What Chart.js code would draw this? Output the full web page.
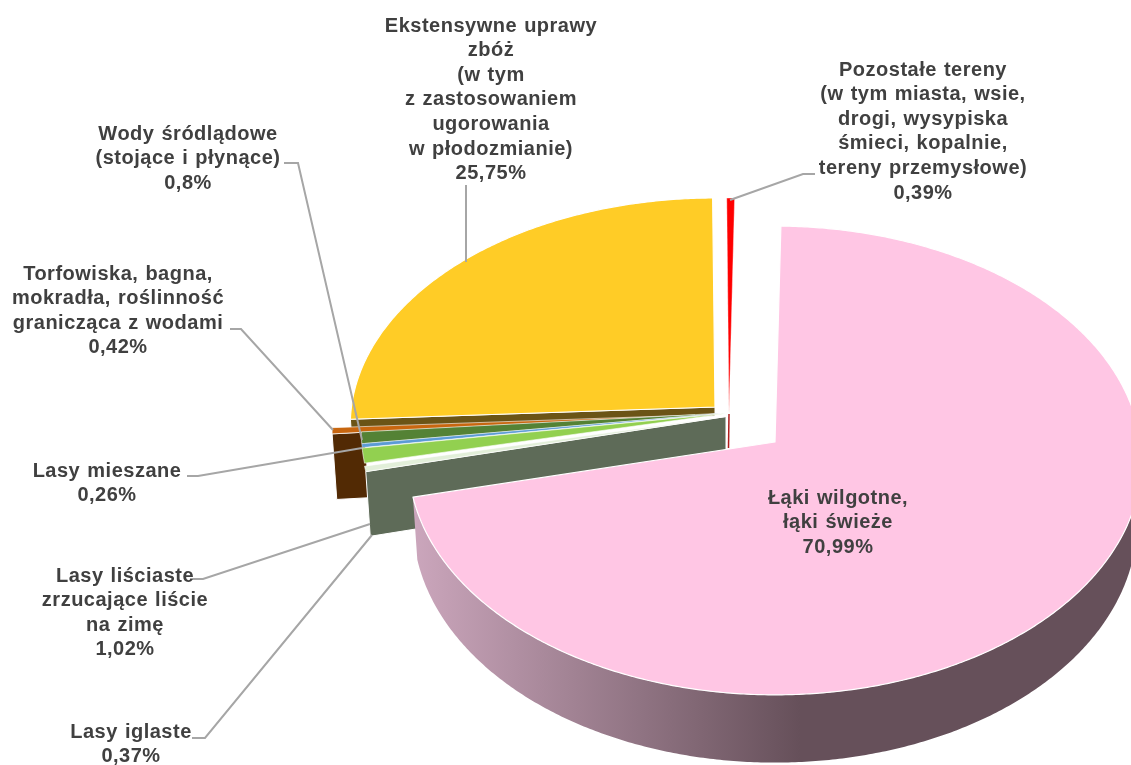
<!DOCTYPE html>
<html>
<head>
<meta charset="utf-8">
<style>html,body{margin:0;padding:0;background:#fff;overflow:hidden}canvas{display:block}</style>
<script src="https://cdn.jsdelivr.net/npm/chart.js@4"></script>
</head>
<body>
<canvas id="c" width="1131" height="765"></canvas>
<script>
const categories = ["Łąki wilgotne, łąki świeże","Lasy iglaste","Lasy liściaste zrzucające liście na zimę","Lasy mieszane","Wody śródlądowe (stojące i płynące)","Torfowiska, bagna, mokradła, roślinność granicząca z wodami","Ekstensywne uprawy zbóż (w tym z zastosowaniem ugorowania w płodozmianie)","Pozostałe tereny (w tym miasta, wsie, drogi, wysypiska śmieci, kopalnie, tereny przemysłowe)"];
const values = [70.99,0.37,1.02,0.26,0.8,0.42,25.75,0.39];
const labelLines = [
  ["Łąki wilgotne,","łąki świeże"],
  ["Lasy iglaste"],
  ["Lasy liściaste","zrzucające liście","na zimę"],
  ["Lasy mieszane"],
  ["Wody śródlądowe","(stojące i płynące)"],
  ["Torfowiska, bagna,","mokradła, roślinność","granicząca z wodami"],
  ["Ekstensywne uprawy","zbóż","(w tym","z zastosowaniem","ugorowania","w płodozmianie)"],
  ["Pozostałe tereny","(w tym miasta, wsie,","drogi, wysypiska","śmieci, kopalnie,","tereny przemysłowe)"]
];
const topColors = ["#FFC6E4","#E2EFD9","#92D050","#5B9BD5","#548235","#C8660F","#FFCC26","#FF0000"];
const wallColors = [null,"#5E6B58","#5E6B58","#5E6B58","#5E6B58","#522A04","#6B5416","#B01C1C"];
const borderWidths = [1.2,0.6,0.6,0.4,0.6,0.6,1.2,0.4];
// slice placement (exploded apex on the page, scale, visible wall depth, share of the radial wall shown)
const placement = [
  {x:775,y:442,sx:1,sy:1,depth:61,span:1},
  {x:726,y:416.5,sx:.995,sy:1,depth:63,span:1},
  {x:726,y:413.5,sx:.995,sy:1,depth:0,span:1},
  {x:726,y:413,sx:.995,sy:1,depth:0,span:1},
  {x:726,y:413,sx:.995,sy:1,depth:0,span:1},
  {x:695,y:415,sx:.99,sy:1,depth:65,span:.09},
  {x:715,y:407,sx:.995,sy:.968,depth:9,span:1},
  {x:729,y:414,sx:.95,sy:1,depth:34,span:1}
];
const paintOrder = [7,6,5,4,3,2,1,0];
// label centre x and first-line y, leader polyline
const labelPos = [
  {x:838,y:498,lead:null},
  {x:131,y:732,lead:[[192,738],[205,738],[372,535]]},
  {x:125,y:576,lead:[[190,579],[203,579],[370,524]]},
  {x:107,y:471,lead:[[187,476],[198,476],[362,448]]},
  {x:188,y:134,lead:[[284,163],[298,163],[362,440]]},
  {x:118,y:274,lead:[[230,329],[241,329],[333,430]]},
  {x:491,y:26,lead:[[466,185],[466,262]]},
  {x:923,y:70,lead:[[815,174],[803,174],[730,200]]}
];
const HX = 365.5/382, HY = 233/382, K = 0.0788;
function project(arc,p,a,depth){
  const u=Math.cos(a), v=Math.sin(a), f=1/(1-K*v);
  let dx=arc.outerRadius*HX*p.sx*u*f, dy=arc.outerRadius*HY*p.sy*v*f, d=0;
  if(depth){ const s=1-.012*depth/61; dx*=s; dy*=s; d=depth*(1+.16*v); }
  return [p.x+dx,p.y+dy+d];
}
function pink3dGradient(ctx){
  const g=ctx.createLinearGradient(414,0,800,0);
  g.addColorStop(0,"#CBA6BC");
  g.addColorStop(1,"#66505A");
  return g;
}
const pie3d = {
  id:"pie3d",
  beforeDatasetDraw(chart,args){
    const ctx=chart.ctx, arcs=chart.getDatasetMeta(args.index).data;
    const step=Math.PI/360;
    ctx.save();
    ctx.lineJoin="round";
    for(const i of paintOrder){
      const arc=arcs[i], p=placement[i], o=arc.options;
      const s=arc.startAngle, e=arc.endAngle;
      // side walls
      if(i===0){
        const from=0;
        ctx.beginPath();
        let first=true;
        for(let a=from;a<=e;a+=step){const q=project(arc,p,a,0);first?ctx.moveTo(q[0],q[1]):ctx.lineTo(q[0],q[1]);first=false;}
        const q0=project(arc,p,e,0);ctx.lineTo(q0[0],q0[1]);
        const q1=project(arc,p,e,p.depth);ctx.lineTo(q1[0],q1[1]);
        for(let a=e;a>=from;a-=step){const q=project(arc,p,a,p.depth);ctx.lineTo(q[0],q[1]);}
        ctx.closePath();
        ctx.fillStyle=pink3dGradient(ctx);ctx.fill();
      } else if(p.depth && i!==7){
        const a0=project(arc,p,s,0), a1=project(arc,p,s,p.depth);
        const m0=[a0[0]+(p.x-a0[0])*p.span,a0[1]+(p.y-a0[1])*p.span];
        const m1=[a1[0]+(p.x-a1[0])*p.span,a1[1]+(p.y+p.depth-a1[1])*p.span];
        ctx.beginPath();ctx.moveTo(m0[0],m0[1]);ctx.lineTo(a0[0],a0[1]);ctx.lineTo(a1[0],a1[1]);ctx.lineTo(m1[0],m1[1]);ctx.closePath();
        ctx.fillStyle=wallColors[i];ctx.fill();
        ctx.strokeStyle=o.borderColor;ctx.lineWidth=1;ctx.stroke();
      } else if(i===7){
        ctx.beginPath();ctx.moveTo(p.x,p.y);ctx.lineTo(p.x-.5,p.y+p.depth);
        ctx.strokeStyle=wallColors[i];ctx.lineWidth=1.5;ctx.stroke();
      }
      // top face
      ctx.beginPath();ctx.moveTo(p.x,p.y);
      for(let a=s;a<e;a+=step){const q=project(arc,p,a,0);ctx.lineTo(q[0],q[1]);}
      const q=project(arc,p,e,0);ctx.lineTo(q[0],q[1]);
      ctx.closePath();
      ctx.fillStyle=o.backgroundColor;ctx.fill();
      ctx.strokeStyle=o.borderColor;ctx.lineWidth=o.borderWidth;ctx.stroke();
    }
    ctx.restore();
    return false;
  },
  afterDraw(chart){
    const ctx=chart.ctx;
    ctx.save();
    ctx.strokeStyle="#A6A6A6";ctx.lineWidth=2;
    labelPos.forEach(l=>{
      if(!l.lead)return;
      ctx.beginPath();l.lead.forEach((q,j)=>j?ctx.lineTo(q[0],q[1]):ctx.moveTo(q[0],q[1]));ctx.stroke();
    });
    ctx.fillStyle="#404040";ctx.textAlign="center";ctx.textBaseline="middle";
    ctx.font='bold 20px "Liberation Sans"';
    ctx.letterSpacing="0.5px";
    ctx.wordSpacing="1px";
    labelPos.forEach((l,i)=>{
      const lines=labelLines[i].concat(String(values[i]).replace(".",",")+"%");
      lines.forEach((t,j)=>ctx.fillText(t,l.x,l.y+j*24.6));
    });
    ctx.restore();
  }
};
new Chart(document.getElementById("c"),{
  type:"pie",
  data:{labels:categories,datasets:[{data:values,backgroundColor:topColors,borderColor:"#FFFFFF",borderWidth:borderWidths}]},
  options:{responsive:false,animation:false,rotation:1,layout:{padding:0},
    plugins:{legend:{display:false},tooltip:{enabled:false}}},
  plugins:[pie3d]
});
</script>
</body>
</html>
